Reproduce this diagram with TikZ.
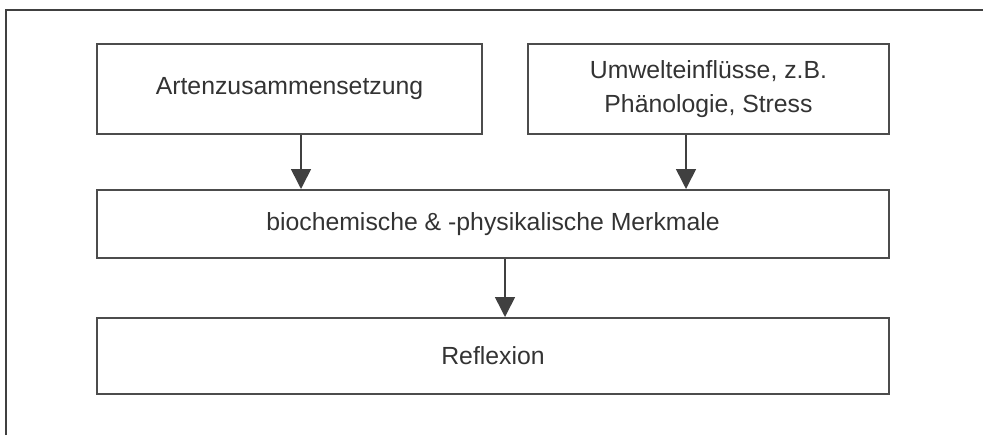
\documentclass[tikz,border=0pt]{standalone}
\usepackage{fontspec}
\setmainfont{Liberation Sans}
\usetikzlibrary{arrows.meta, calc}

\begin{document}
\begin{tikzpicture}[x=0.5pt, y=0.5pt, >={Triangle[width=10pt, length=10pt]},
        box/.style={draw=black!70, line width=1pt, align=center, inner sep=0pt,
            font=\fontsize{12.4}{17}\selectfont, text=black!80},
        flow/.style={->, draw=black!75, line width=0.8pt}]
        \useasboundingbox (0, 0) rectangle (983, 435);
        \draw[black!75, line width=1pt] (6, 0) -- (6, 425) -- (983, 425);
        \node[box, minimum width=385*0.5pt, minimum height=90*0.5pt] (arten) at (289.5, 346) {Artenzusammensetzung};
        \node[box, minimum width=361*0.5pt, minimum height=90*0.5pt] (umwelt) at (708.5, 346) {Umwelteinflüsse, z.B.\\Phänologie, Stress};
        \node[box, minimum width=792*0.5pt, minimum height=68*0.5pt] (merkmale) at (493, 211) {biochemische \& -physikalische Merkmale};
        \node[box, minimum width=792*0.5pt, minimum height=76*0.5pt] (reflexion) at (493, 79) {Reflexion};
        \draw[flow] ([xshift=5.75pt]arten.south) -- ([xshift=5.75pt]arten.south |- merkmale.north);
        \draw[flow] ([xshift=-11.25pt]umwelt.south) -- ([xshift=-11.25pt]umwelt.south |- merkmale.north);
        \draw[flow] ([xshift=6pt]merkmale.south) -- ([xshift=6pt]merkmale.south |- reflexion.north);
    \end{tikzpicture}
\end{document}
